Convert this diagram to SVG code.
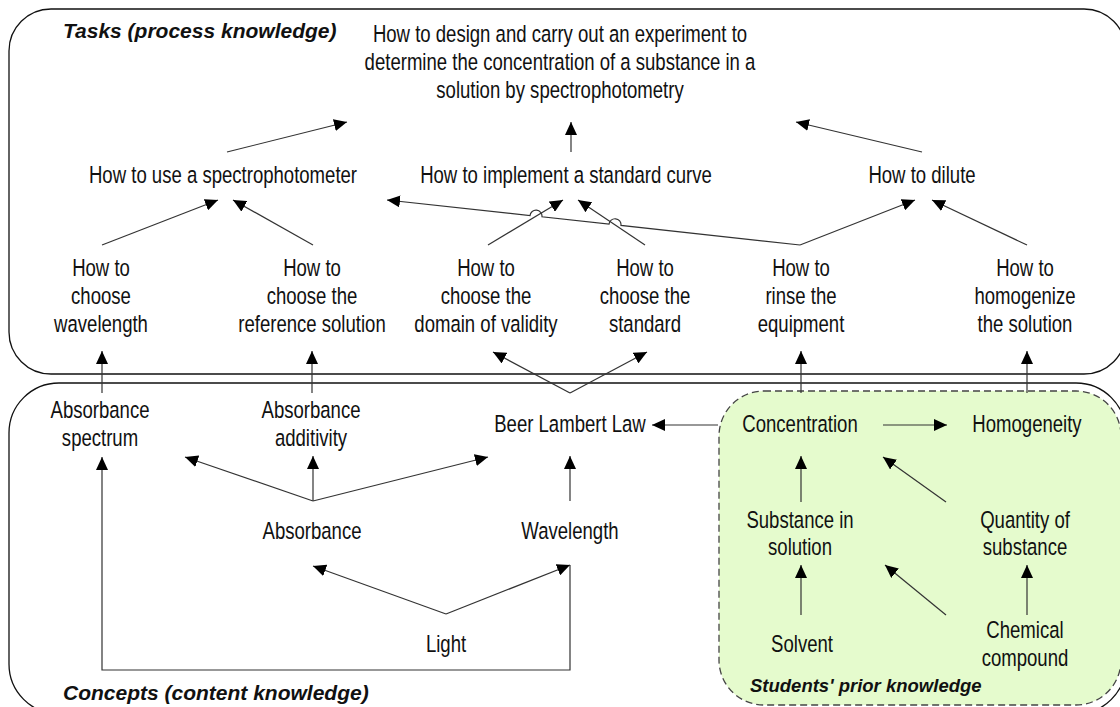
<svg xmlns="http://www.w3.org/2000/svg" width="1120" height="707" viewBox="0 0 1120 707">
<style>
.frame{fill:none;stroke:#111;stroke-width:1.3}
.prior{fill:#e5fbcd;stroke:#444;stroke-width:1.3;stroke-dasharray:7 4}
.t{font-family:"Liberation Sans",Arial,sans-serif;font-size:23.5px;fill:#111;text-anchor:middle}
.h{font-family:"Liberation Sans",Arial,sans-serif;font-size:21px;font-weight:bold;font-style:italic;fill:#111}
.hs{font-family:"Liberation Sans",Arial,sans-serif;font-size:18.5px;font-weight:bold;font-style:italic;fill:#111}
.c{fill:none;stroke:#333;stroke-width:1.2;marker-end:url(#ah)}
</style>
<defs>
<marker id="ah" markerUnits="userSpaceOnUse" markerWidth="14" markerHeight="12" refX="13" refY="6" orient="auto">
<path d="M0,0 L13,6 L0,12 z" fill="#000"/>
</marker>
</defs>
<g id="frames">
<rect class="frame" x="9" y="9" width="1117" height="365" rx="42" ry="42"/>
<rect class="frame" x="9" y="383" width="1117" height="331" rx="50" ry="50"/>
<rect class="prior" x="719" y="391" width="402" height="314" rx="45" ry="45"/>
<text class="h" x="63" y="38">Tasks (process knowledge)</text>
<text class="h" x="63" y="700">Concepts (content knowledge)</text>
<text class="hs" x="750" y="692">Students' prior knowledge</text>
</g>
<g id="connectors">
<line class="c" x1="227" y1="152" x2="347" y2="122"/>
<line class="c" x1="571" y1="152" x2="571" y2="122"/>
<line class="c" x1="922" y1="152" x2="796" y2="122"/>
<line class="c" x1="102" y1="245" x2="218" y2="200"/>
<line class="c" x1="313" y1="245" x2="233" y2="200"/>
<line class="c" x1="488" y1="245" x2="563" y2="200"/>
<line class="c" x1="645" y1="245" x2="578" y2="200"/>
<path class="c" d="M800,245 L621,225.4 A6,6 0 0 0 609,224.2 L542,216.8 A6,6 0 0 0 530,215.6 L387,200"/>
<line class="c" x1="800" y1="245" x2="915" y2="200"/>
<line class="c" x1="1027" y1="245" x2="932" y2="200"/>
<line class="c" x1="102" y1="393" x2="102" y2="351"/>
<line class="c" x1="312" y1="393" x2="312" y2="351"/>
<line class="c" x1="570" y1="393" x2="493" y2="352"/>
<line class="c" x1="570" y1="393" x2="647" y2="352"/>
<line class="c" x1="801" y1="393" x2="801" y2="351"/>
<line class="c" x1="1027" y1="393" x2="1027" y2="351"/>
<line class="c" x1="718" y1="425" x2="652" y2="425"/>
<line class="c" x1="883" y1="425" x2="947" y2="425"/>
<line class="c" x1="313" y1="501" x2="185" y2="457"/>
<line class="c" x1="313" y1="501" x2="313" y2="456"/>
<line class="c" x1="313" y1="501" x2="488" y2="457"/>
<line class="c" x1="570" y1="501" x2="570" y2="456"/>
<line class="c" x1="446" y1="614" x2="313" y2="566"/>
<line class="c" x1="446" y1="614" x2="570" y2="565"/>
<path class="c" d="M570,565 L570,670 L102,670 L102,457"/>
<line class="c" x1="801" y1="502" x2="801" y2="456"/>
<line class="c" x1="946" y1="502" x2="883" y2="457"/>
<line class="c" x1="801" y1="615" x2="801" y2="565"/>
<line class="c" x1="946" y1="615" x2="885" y2="565"/>
<line class="c" x1="1027" y1="615" x2="1027" y2="565"/>
</g>
<g id="n-goal"><text class="t" transform="translate(560,42) scale(0.79,1)"><tspan x="0" dy="0">How to design and carry out an experiment to</tspan><tspan x="0" dy="28">determine the concentration of a substance in a</tspan><tspan x="0" dy="28">solution by spectrophotometry</tspan></text></g>
<g id="n-spectro"><text class="t" transform="translate(223,183) scale(0.79,1)">How to use a spectrophotometer</text></g>
<g id="n-curve"><text class="t" transform="translate(566,183) scale(0.79,1)">How to implement a standard curve</text></g>
<g id="n-dilute"><text class="t" transform="translate(922,183) scale(0.79,1)">How to dilute</text></g>
<g id="n-wavelength-task"><text class="t" transform="translate(101,276) scale(0.79,1)"><tspan x="0" dy="0">How to</tspan><tspan x="0" dy="28">choose</tspan><tspan x="0" dy="28">wavelength</tspan></text></g>
<g id="n-reference"><text class="t" transform="translate(312,276) scale(0.79,1)"><tspan x="0" dy="0">How to</tspan><tspan x="0" dy="28">choose the</tspan><tspan x="0" dy="28">reference solution</tspan></text></g>
<g id="n-domain"><text class="t" transform="translate(486,276) scale(0.79,1)"><tspan x="0" dy="0">How to</tspan><tspan x="0" dy="28">choose the</tspan><tspan x="0" dy="28">domain of validity</tspan></text></g>
<g id="n-standard"><text class="t" transform="translate(645,276) scale(0.79,1)"><tspan x="0" dy="0">How to</tspan><tspan x="0" dy="28">choose the</tspan><tspan x="0" dy="28">standard</tspan></text></g>
<g id="n-rinse"><text class="t" transform="translate(801,276) scale(0.79,1)"><tspan x="0" dy="0">How to</tspan><tspan x="0" dy="28">rinse the</tspan><tspan x="0" dy="28">equipment</tspan></text></g>
<g id="n-homogenize"><text class="t" transform="translate(1025,276) scale(0.79,1)"><tspan x="0" dy="0">How to</tspan><tspan x="0" dy="28">homogenize</tspan><tspan x="0" dy="28">the solution</tspan></text></g>
<g id="n-spectrum"><text class="t" transform="translate(100,418) scale(0.79,1)"><tspan x="0" dy="0">Absorbance</tspan><tspan x="0" dy="28">spectrum</tspan></text></g>
<g id="n-additivity"><text class="t" transform="translate(311,418) scale(0.79,1)"><tspan x="0" dy="0">Absorbance</tspan><tspan x="0" dy="28">additivity</tspan></text></g>
<g id="n-beer"><text class="t" transform="translate(570,432) scale(0.79,1)">Beer Lambert Law</text></g>
<g id="n-concentration"><text class="t" transform="translate(800,432) scale(0.79,1)">Concentration</text></g>
<g id="n-homogeneity"><text class="t" transform="translate(1027,432) scale(0.79,1)">Homogeneity</text></g>
<g id="n-absorbance"><text class="t" transform="translate(312,539) scale(0.79,1)">Absorbance</text></g>
<g id="n-wavelength"><text class="t" transform="translate(570,539) scale(0.79,1)">Wavelength</text></g>
<g id="n-substance"><text class="t" transform="translate(800,528) scale(0.79,1)"><tspan x="0" dy="0">Substance in</tspan><tspan x="0" dy="27">solution</tspan></text></g>
<g id="n-quantity"><text class="t" transform="translate(1025,528) scale(0.79,1)"><tspan x="0" dy="0">Quantity of</tspan><tspan x="0" dy="27">substance</tspan></text></g>
<g id="n-light"><text class="t" transform="translate(446,652) scale(0.79,1)">Light</text></g>
<g id="n-solvent"><text class="t" transform="translate(802,652) scale(0.79,1)">Solvent</text></g>
<g id="n-chemical"><text class="t" transform="translate(1025,638) scale(0.79,1)"><tspan x="0" dy="0">Chemical</tspan><tspan x="0" dy="28">compound</tspan></text></g>
</svg>
